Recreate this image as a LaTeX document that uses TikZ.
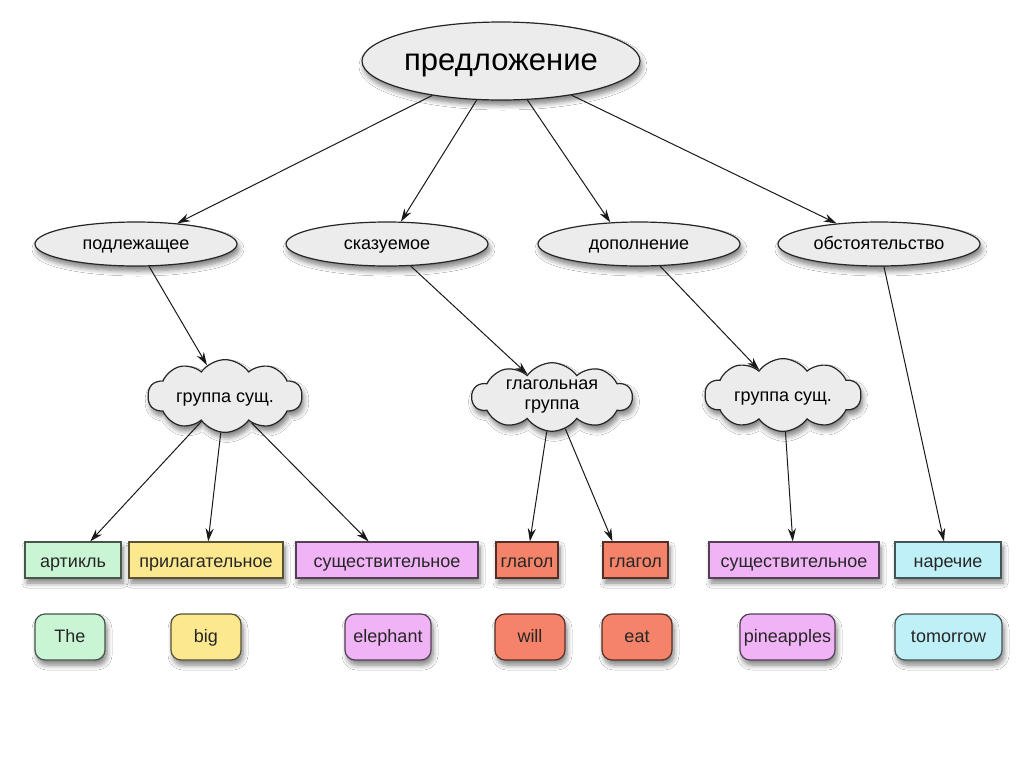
\documentclass[tikz,border=0pt]{standalone}
\usepackage{fontspec}
\setmainfont{Liberation Sans}
\usetikzlibrary{shapes.geometric,shapes.symbols,arrows.meta,shadows.blur}
\definecolor{cgray}{HTML}{ECECEC}
\definecolor{cmint}{HTML}{C9F5D5}
\definecolor{cyel}{HTML}{FBE88F}
\definecolor{cpink}{HTML}{F0B3F5}
\definecolor{csalm}{HTML}{F4836A}
\definecolor{ccyan}{HTML}{C0F0F7}
\tikzset{
  shad/.style={blur shadow={shadow blur steps=6, shadow xshift=1pt, shadow yshift=-2.5pt, shadow opacity=50, shadow blur radius=2.5pt}},
  ell/.style={ellipse, draw=black!85, line width=0.6pt, fill=cgray, shad, inner sep=0pt, font=\fontsize{9}{11}\selectfont, text height=7.6pt, text depth=1.9pt, minimum width=101pt, minimum height=22pt},
  topell/.style={ell, minimum width=139pt, minimum height=39pt, font=\fontsize{15.5}{18}\selectfont, text height=12.2pt, text depth=3.2pt},
  cld/.style={cloud, cloud puffs=10, cloud puff arc=110, aspect=2.6, draw=black!85, line width=0.6pt, fill=cgray, shad, inner sep=0pt, font=\fontsize{9}{11}\selectfont, align=center},
  cldone/.style={cld, text height=8pt, text depth=1.9pt},
  cbox/.style={rectangle, draw=#1!35!black, fill=#1, line width=0.6pt, shad, inner sep=1pt, minimum height=18pt, text=black!85, font=\fontsize{9}{11}\selectfont, text height=9pt, text depth=1.5pt},
  wbox/.style={rectangle, rounded corners=5pt, draw=#1!35!black, fill=#1, line width=0.6pt, shad, inner sep=1pt, minimum height=23pt, text=black!85, font=\fontsize{9}{11}\selectfont, text height=7.6pt, text depth=1.9pt},
  arr/.style={-{Stealth[length=6.5pt,width=4pt]}, line width=0.5pt, black!90}
}
\begin{document}
\begin{tikzpicture}[x=0.5pt,y=-0.5pt]
\useasboundingbox (0,0) rectangle (1024,767);
\fill[white] (0,0) rectangle (1024,767);
% top
\node[topell] (top) at (501,61) {предложение};
% level 2
\node[ell] (pod) at (136,244) {подлежащее};
\node[ell] (ska) at (387,244) {сказуемое};
\node[ell] (dop) at (639,244) {дополнение};
\node[ell] (obs) at (879,244) {обстоятельство};
% clouds
\node[cldone, minimum width=77pt, minimum height=31pt] (gl) at (225,396) {группа сущ.};
\node[cld, minimum width=80pt, minimum height=34pt] (vg) at (552,397) {глагольная\\[-1pt]группа};
\node[cldone, minimum width=78pt, minimum height=33pt] (gr) at (783,395) {группа сущ.};
% category boxes
\node[cbox=cmint, minimum width=48pt] (art) at (73,560) {артикль};
\node[cbox=cyel, minimum width=77pt] (adj) at (206,560) {прилагательное};
\node[cbox=cpink, minimum width=91pt] (n1) at (387,560) {существительное};
\node[cbox=csalm, minimum width=31pt] (v1) at (527,560) {глагол};
\node[cbox=csalm, minimum width=32.5pt] (v2) at (635.5,560) {глагол};
\node[cbox=cpink, minimum width=85pt] (n2) at (794,560) {существительное};
\node[cbox=ccyan, minimum width=53pt] (adv) at (948,560) {наречие};
% words
\node[wbox=cmint, minimum width=35pt] (w1) at (70,637) {The};
\node[wbox=cyel, minimum width=35pt] (w2) at (206,637) {big};
\node[wbox=cpink, minimum width=43pt] (w3) at (388,637) {elephant};
\node[wbox=csalm, minimum width=35pt] (w4) at (530,637) {will};
\node[wbox=csalm, minimum width=35pt] (w5) at (637,637) {eat};
\node[wbox=cpink, minimum width=47.5pt] (w6) at (787.5,637) {pineapples};
\node[wbox=ccyan, minimum width=53.5pt] (w7) at (948.5,637) {tomorrow};
% connectors
\draw[arr] (top) -- (pod);
\draw[arr] (top) -- (ska);
\draw[arr] (top) -- (dop.143);
\draw[arr] (top) -- (obs);
\draw[arr] (pod) -- (gl);
\draw[arr] (ska) -- (vg);
\draw[arr] (dop) -- (gr);
\draw[arr] (obs) -- (adv);
\draw[arr] (gl) -- (art);
\draw[arr] (gl) -- (adj);
\draw[arr] (gl) -- (n1);
\draw[arr] (vg) -- (v1);
\draw[arr] (vg) -- ([xshift=-11.5pt]v2.north);
\draw[arr] (gr) -- (n2);
\end{tikzpicture}
\end{document}
